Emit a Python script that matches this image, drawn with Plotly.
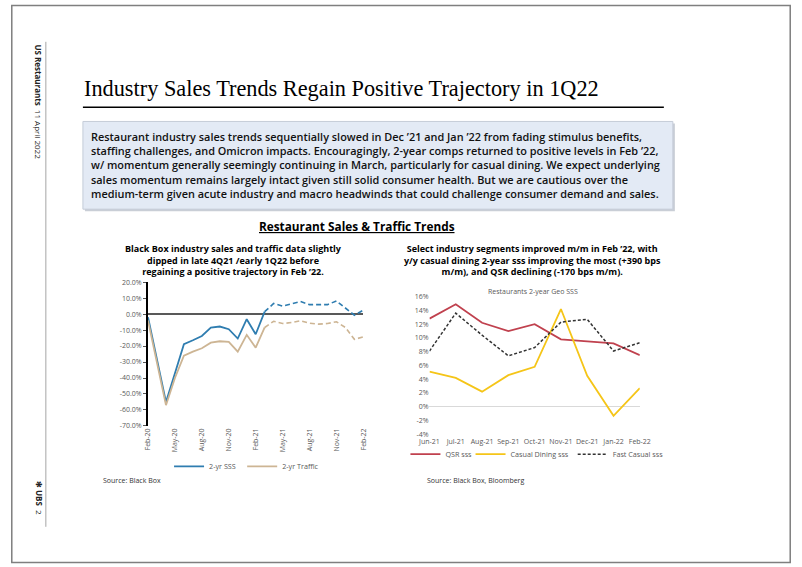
import plotly.graph_objects as go

W, H = 802, 567

# ---------------- data ----------------
months = ["Feb-20", "Mar-20", "Apr-20", "May-20", "Jun-20", "Jul-20", "Aug-20", "Sep-20",
          "Oct-20", "Nov-20", "Dec-20", "Jan-21", "Feb-21", "Mar-21", "Apr-21", "May-21",
          "Jun-21", "Jul-21", "Aug-21", "Sep-21", "Oct-21", "Nov-21", "Dec-21", "Jan-22", "Feb-22"]
sss_2yr = [-2.0, -28.0, -55.0, -37.0, -18.9, -16.4, -13.7, -8.4, -7.8, -9.5, -15.3, -3.2, -12.6,
           1.5, 6.6, 5.0, 6.3, 7.8, 5.9, 5.7, 5.9, 8.2, 3.8, -0.7, 2.5]
traffic_2yr = [-4.0, -30.0, -57.0, -40.0, -26.0, -23.5, -21.4, -17.9, -17.0, -17.4, -23.5, -13.0, -21.0,
               -8.4, -4.5, -5.9, -5.3, -4.2, -5.7, -6.3, -5.9, -4.8, -8.4, -15.8, -14.3]
left_ticks = months[::3]
left_yticks = [20, 10, 0, -10, -20, -30, -40, -50, -60, -70]

geo_months = ["Jun-21", "Jul-21", "Aug-21", "Sep-21", "Oct-21", "Nov-21", "Dec-21", "Jan-22", "Feb-22"]
qsr_sss = [12.8, 14.9, 12.2, 11.0, 12.0, 9.8, 9.5, 9.2, 7.5]
casual_sss = [5.1, 4.2, 2.2, 4.6, 5.8, 14.2, 4.5, -1.3, 2.7]
fast_casual_sss = [8.1, 13.6, 10.4, 7.4, 8.6, 12.3, 12.7, 8.1, 9.3]
right_yticks = [16, 14, 12, 10, 8, 6, 4, 2, 0, -2, -4]

# ---------------- helpers (target picture px -> paper fraction) ----------------
SX, OX = 0.971, 11.2
SY, OY = 0.976, 7.5

def px(x):
    return ((x - OX) / SX) / W

def py(y):
    return 1 - ((y - OY) / SY) / H

BLUE = "#2F7DB0"
TAN = "#CDB594"
RED = "#C0414E"
GOLD = "#F5C518"
DARK = "#333333"
TICKC = "#595959"
SANS = "Open Sans"

fig = go.Figure()

# left chart
fig.add_trace(go.Scatter(x=months[:14], y=sss_2yr[:14], mode="lines", name="2-yr SSS",
                         line=dict(color=BLUE, width=1.8), legend="legend",
                         xaxis="x", yaxis="y"))
fig.add_trace(go.Scatter(x=months[:14], y=traffic_2yr[:14], mode="lines", name="2-yr Traffic",
                         line=dict(color=TAN, width=1.8), legend="legend2",
                         xaxis="x", yaxis="y"))
fig.add_trace(go.Scatter(x=months[13:], y=sss_2yr[13:], mode="lines", name="2-yr SSS",
                         line=dict(color=BLUE, width=1.6, dash="5px,3px"),
                         showlegend=False, xaxis="x", yaxis="y"))
fig.add_trace(go.Scatter(x=months[13:], y=traffic_2yr[13:], mode="lines", name="2-yr Traffic",
                         line=dict(color=TAN, width=1.6, dash="5px,3px"),
                         showlegend=False, xaxis="x", yaxis="y"))

# right chart
fig.add_trace(go.Scatter(x=geo_months, y=qsr_sss, mode="lines", name="QSR sss",
                         line=dict(color=RED, width=1.8), legend="legend3", xaxis="x2", yaxis="y2"))
fig.add_trace(go.Scatter(x=geo_months, y=casual_sss, mode="lines", name="Casual Dining sss",
                         line=dict(color=GOLD, width=1.8), legend="legend4", xaxis="x2", yaxis="y2"))
fig.add_trace(go.Scatter(x=geo_months, y=fast_casual_sss, mode="lines", name="Fast Casual sss",
                         line=dict(color=DARK, width=1.5, dash="3px,2px"), legend="legend5",
                         xaxis="x2", yaxis="y2"))

tickfont = dict(family=SANS, size=7, color=TICKC)
legfont = dict(family=SANS, size=7.2, color=TICKC)


def leg(x_text, y_mid):
    return dict(orientation="h", x=px(x_text - 42), y=py(y_mid), xanchor="left", yanchor="middle",
                font=legfont, bgcolor="rgba(0,0,0,0)", itemwidth=30)


fig.update_layout(
    width=W, height=H, margin=dict(l=0, r=0, t=0, b=0),
    paper_bgcolor="white", plot_bgcolor="white",
    font=dict(family=SANS, color="#000"),
    hovermode=False,
    xaxis=dict(domain=[px(148), px(363)], type="category", categoryorder="array",
               categoryarray=months, range=[0, 24], tickvals=left_ticks, ticktext=left_ticks,
               tickangle=-90, tickfont=tickfont, showgrid=False, showline=False, zeroline=False,
               ticks="", anchor="y"),
    yaxis=dict(domain=[py(425), py(282.3)], range=[-70, 20], tickvals=left_yticks,
               ticktext=[f"{v:.1f}%" for v in left_yticks], tickfont=tickfont, showgrid=False,
               showline=True, linecolor="#000", linewidth=2, ticks="outside", ticklen=3,
               tickcolor="#555", zeroline=True, zerolinecolor="#595959", zerolinewidth=1.5,
               anchor="x"),
    xaxis2=dict(domain=[px(429), px(639)], type="category", categoryorder="array",
                categoryarray=geo_months, range=[0, 8], tickangle=0, tickfont=tickfont,
                ticklabelstandoff=2,
                showgrid=False, showline=False, zeroline=False, ticks="", anchor="y2"),
    yaxis2=dict(domain=[py(433.3), py(296.7)], range=[-4, 16], tickvals=right_yticks,
                ticktext=[f"{v}%" for v in right_yticks], tickfont=tickfont, showgrid=False,
                showline=False, zeroline=True, zerolinecolor="#D9D9D9", zerolinewidth=1,
                anchor="x2"),
    legend=leg(211, 465),
    legend2=leg(284, 465),
    legend3=leg(447, 453),
    legend4=leg(512, 453),
    legend5=leg(614, 453),
    showlegend=True,
)

shapes = [
    # slide border
    dict(type="rect", xref="paper", yref="paper", x0=0.001, x1=0.999, y0=0.001, y1=0.999,
         line=dict(color="#7F7F7F", width=1.5), layer="below"),
    # vertical divider
    dict(type="line", xref="paper", yref="paper", x0=px(46), x1=px(46), y0=py(44), y1=py(525),
         line=dict(color="#A6A6A6", width=1)),
    # title rule
    dict(type="line", xref="paper", yref="paper", x0=px(83), x1=px(663), y0=py(109), y1=py(109),
         line=dict(color="#000", width=1.5)),
    # box shadow
    dict(type="rect", xref="paper", yref="paper", x0=px(85), x1=px(674), y0=py(212), y1=py(125),
         line=dict(width=0), fillcolor="#C9CED6", layer="below"),
    # box
    dict(type="rect", xref="paper", yref="paper", x0=px(83), x1=px(672), y0=py(210), y1=py(123),
         line=dict(color="#C5CCD8", width=1), fillcolor="#E3EAF5", layer="below"),
]
fig.update_layout(shapes=shapes)

body = ("Restaurant industry sales trends sequentially slowed in Dec ’21 and Jan ’22 from fading stimulus benefits,<br>"
        "staffing challenges, and Omicron impacts. Encouragingly, 2-year comps returned to positive levels in Feb ’22,<br>"
        "w/ momentum generally seemingly continuing in March, particularly for casual dining. We expect underlying<br>"
        "sales momentum remains largely intact given still solid consumer health. But we are cautious over the<br>"
        "medium-term given acute industry and macro headwinds that could challenge consumer demand and sales.")

ann = [
    dict(text="Industry Sales Trends Regain Positive Trajectory in 1Q22", x=px(82), y=py(90),
         xanchor="left", yanchor="middle", font=dict(family="Liberation Serif", size=22.3, color="#000")),
    dict(text=body, x=px(89), y=py(166), xanchor="left", yanchor="middle", align="left",
         font=dict(family=SANS, size=10.9, color="#111", weight=600)),
    dict(text="<b><u>Restaurant Sales &amp; Traffic Trends</u></b>", x=px(357), y=py(227),
         xanchor="center", yanchor="middle", font=dict(family=SANS, size=11.8, color="#000")),
    dict(text="Black Box industry sales and traffic data slightly<br>dipped in late 4Q21 /early 1Q22 before<br>"
              "regaining a positive trajectory in Feb ’22.", x=px(233), y=py(260),
         xanchor="center", yanchor="middle", align="center",
         font=dict(family=SANS, size=9.0, color="#000", weight=700)),
    dict(text="Select industry segments improved m/m in Feb ’22, with<br>y/y casual dining 2-year sss improving the most (+390 bps<br>"
              "m/m), and QSR declining (-170 bps m/m).", x=px(532), y=py(260),
         xanchor="center", yanchor="middle", align="center",
         font=dict(family=SANS, size=9.0, color="#000", weight=700)),
    dict(text="Restaurants 2-year Geo SSS", x=px(532), y=py(292), xanchor="center", yanchor="middle",
         font=dict(family=SANS, size=7.0, color=TICKC)),
    dict(text="Source: Black Box", x=px(101), y=py(479), xanchor="left", yanchor="middle",
         font=dict(family=SANS, size=7, color="#333")),
    dict(text="Source: Black Box, Bloomberg", x=px(425), y=py(479), xanchor="left", yanchor="middle",
         font=dict(family=SANS, size=7, color="#333")),
    dict(text="<b>US Restaurants</b>  11 April 2022", x=px(39), y=py(45), xanchor="center", yanchor="top",
         textangle=90, font=dict(family=SANS, size=8, color="#222")),
    dict(text="<b>✻ UBS</b>  2", x=px(39), y=py(515), xanchor="center", yanchor="bottom",
         textangle=90, font=dict(family=SANS, size=8, color="#222")),
]
for a in ann:
    a.setdefault("xref", "paper")
    a.setdefault("yref", "paper")
    a.setdefault("showarrow", False)
fig.update_layout(annotations=ann)

fig.write_html(
    "out.html",
    config={"displayModeBar": False, "staticPlot": True},
    post_script=("document.documentElement.style.margin='0';document.body.style.margin='0';"
                 "document.body.style.padding='0';document.body.style.overflow='hidden';"
                 "document.documentElement.style.overflow='hidden';"),
)
